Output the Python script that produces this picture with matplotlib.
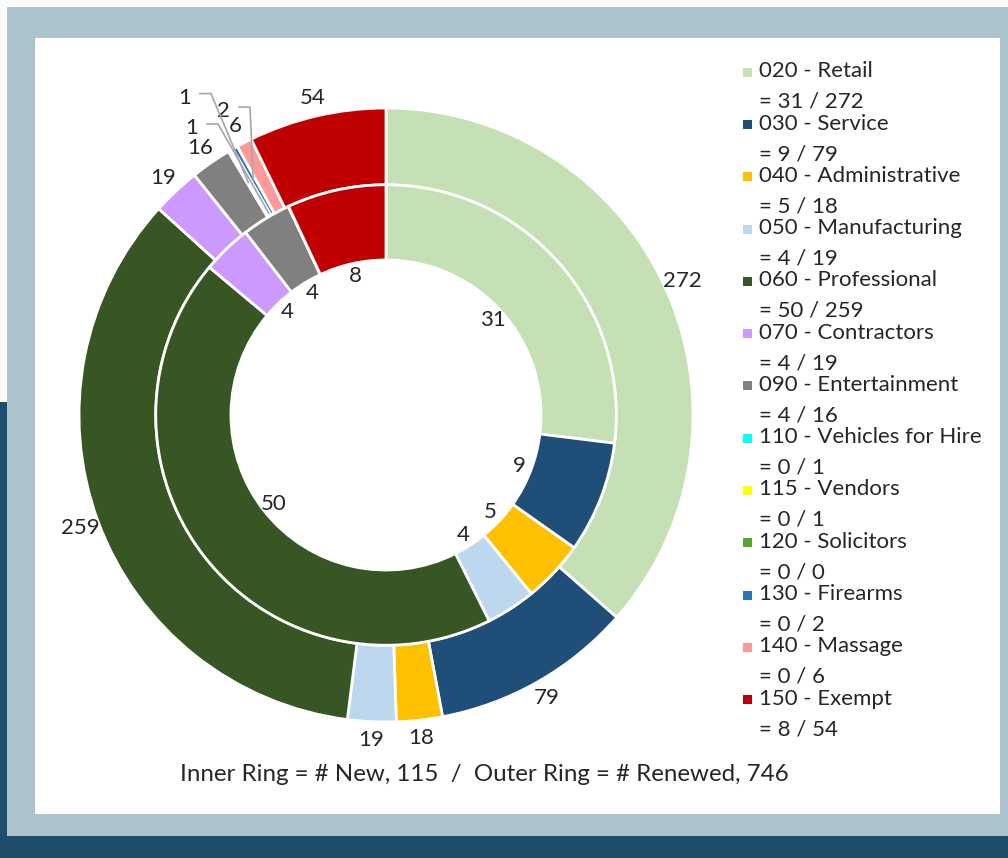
"""Two-ring doughnut of business licences by category: new (inner) and renewed (outer)."""
import numpy as np
import matplotlib.pyplot as plt
import matplotlib.patches as mpatches

plt.rcParams['font.family'] = ['Lato', 'DejaVu Sans']

# categories in the order they run round the rings, clockwise from 12 o'clock
Codes = ['020 - Retail', '030 - Service', '040 - Administrative', '050 - Manufacturing',
         '060 - Professional', '070 - Contractors', '090 - Entertainment',
         '110 - Vehicles for Hire', '115 - Vendors', '120 - Solicitors', '130 - Firearms',
         '140 - Massage', '150 - Exempt']
New = [31, 9, 5, 4, 50, 4, 4, 0, 0, 0, 0, 0, 8]
Renewed = [272, 79, 18, 19, 259, 19, 16, 1, 1, 0, 2, 6, 54]
Colours = ['#C5E0B4', '#1F4E79', '#FFC000', '#BDD7EE', '#375623', '#CC99FF', '#808080',
           '#00FFFF', '#FFFF00', '#4EA72E', '#2E75B6', '#FF9999', '#C00000']

TXT = '#262626'
NAVY = '#1F4E6B'
FRAME = '#ABC4CE'
FS = 16

W, H = 1008, 858
fig = plt.figure(figsize=(W / 100, H / 100), dpi=100)
fig.patch.set_facecolor('#FBFBFB')


def px_rect(x0, y0, x1, y1, colour):
    # rectangle given in pixels, measured from the top left corner
    fig.add_artist(mpatches.Rectangle((x0 / W, 1 - y1 / H), (x1 - x0) / W, (y1 - y0) / H,
                                      facecolor=colour, edgecolor='none',
                                      transform=fig.transFigure, zorder=-2))


# background frame
px_rect(0, 402, 7, 858, NAVY)
px_rect(0, 836, 1008, 858, NAVY)
px_rect(7, 7, 1008, 836, FRAME)
px_rect(35, 38, 1000, 814, 'white')

# doughnut axes: centre (386, 415) px, outer radius 307 px
cx, cy, R, half = 386, 415, 307, 340
ax = fig.add_axes([(cx - half) / W, (H - cy - half) / H, 2 * half / W, 2 * half / H])
ax.patch.set_alpha(0)

wp = dict(width=0.25, edgecolor='white', linewidth=2)
ax.pie(Renewed, radius=1.0, colors=Colours, startangle=90, counterclock=False, wedgeprops=wp)
wp = dict(width=0.245, edgecolor='white', linewidth=2)
ax.pie(New, radius=0.75, colors=Colours, startangle=90, counterclock=False, wedgeprops=wp)
L = half / R
ax.set_xlim(-L, L)
ax.set_ylim(-L, L)
ax.set_aspect('equal')
ax.axis('off')


def mid_angles(vals):
    vals = np.array(vals, dtype=float)
    cum = np.cumsum(vals) - vals / 2
    return np.radians(90 - 360 * cum / vals.sum())


# inner ring labels sit just inside the hole
for v, a in zip(New, mid_angles(New)):
    if v == 0:
        continue
    ax.text(0.465 * np.cos(a), 0.465 * np.sin(a), str(v), ha='center', va='center',
            fontsize=FS, color=TXT)

# tiny outer slices get moved labels with leader lines: (x, y, end radius)
moved = {7: (-0.655, 1.034, 0.88), 8: (-0.632, 0.935, 0.76), 10: (-0.528, 0.990, 0.88)}
for i, (v, a) in enumerate(zip(Renewed, mid_angles(Renewed))):
    if v == 0:
        continue
    if i in moved:
        tx, ty, rend = moved[i]
        ax.text(tx, ty, str(v), ha='center', va='center', fontsize=FS, color=TXT)
        lx, ly = tx + 0.049, ty + 0.013
        ax.plot([lx, lx + 0.036, rend * np.cos(a)], [ly, ly, rend * np.sin(a)],
                color='#A6A6A6', linewidth=1.2, zorder=5)
        continue
    ax.text(1.06 * np.cos(a), 1.06 * np.sin(a), str(v), ha='center', va='center',
            fontsize=FS, color=TXT)

# legend, drawn by hand so the square sits on the first line
for i, code in enumerate(Codes):
    base = 77.3 + 52.27 * i
    fig.add_artist(mpatches.Rectangle((742.5 / W, 1 - (base - 0.5) / H), 9 / W, 9 / H,
                                      facecolor=Colours[i], edgecolor='none',
                                      transform=fig.transFigure))
    fig.text(759 / W, 1 - base / H, code, ha='left', va='baseline', fontsize=FS, color=TXT)
    fig.text(759 / W, 1 - (base + 30.5) / H, '= %d / %d' % (New[i], Renewed[i]),
             ha='left', va='baseline', fontsize=FS, color=TXT)

fig.text(484 / W, 1 - 781 / H,
         'Inner Ring = # New, %d  /  Outer Ring = # Renewed, %d' % (sum(New), sum(Renewed)),
         ha='center', va='baseline', fontsize=17.4, color=TXT)

fig.savefig('out.png', dpi=100, facecolor=fig.get_facecolor())
